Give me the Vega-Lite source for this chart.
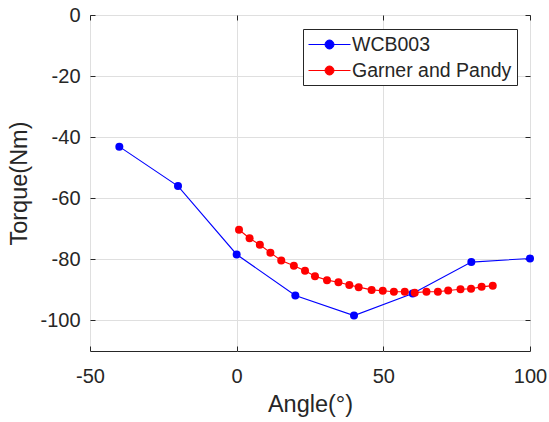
{
  "$schema": "https://vega.github.io/schema/vega-lite/v6.json",
  "width": 440,
  "height": 336,
  "autosize": {"type": "none"},
  "padding": {"left": 90, "top": 15, "right": 19, "bottom": 71},
  "background": "white",
  "config": {
    "view": {"stroke": "#262626", "strokeWidth": 1},
    "font": "Liberation Sans",
    "axis": {
      "labelFont": "Liberation Sans",
      "labelFontSize": 20,
      "labelColor": "#262626",
      "labelFlush": false,
      "labelOverlap": false,
      "labelExpr": "'' + datum.value",
      "titleFont": "Liberation Sans",
      "titleFontSize": 23.5,
      "titleFontWeight": "normal",
      "titleColor": "#262626",
      "domain": false,
      "gridColor": "#dfdfdf",
      "gridWidth": 1,
      "tickColor": "#262626",
      "tickSize": -5
    }
  },
  "data": {
    "values": [
      {"series": "WCB003", "angle": -40, "torque": -43.1},
      {"series": "WCB003", "angle": -20, "torque": -56.0},
      {"series": "WCB003", "angle": 0, "torque": -78.4},
      {"series": "WCB003", "angle": 20, "torque": -91.8},
      {"series": "WCB003", "angle": 40, "torque": -98.4},
      {"series": "WCB003", "angle": 60, "torque": -91.2},
      {"series": "WCB003", "angle": 80, "torque": -80.9},
      {"series": "WCB003", "angle": 100, "torque": -79.7},
      {"series": "Garner and Pandy", "angle": 0.8, "torque": -70.3},
      {"series": "Garner and Pandy", "angle": 4.4, "torque": -73.1},
      {"series": "Garner and Pandy", "angle": 7.9, "torque": -75.2},
      {"series": "Garner and Pandy", "angle": 11.5, "torque": -77.8},
      {"series": "Garner and Pandy", "angle": 15.2, "torque": -80.4},
      {"series": "Garner and Pandy", "angle": 19.5, "torque": -82.1},
      {"series": "Garner and Pandy", "angle": 23.3, "torque": -83.7},
      {"series": "Garner and Pandy", "angle": 26.7, "torque": -85.5},
      {"series": "Garner and Pandy", "angle": 30.8, "torque": -86.8},
      {"series": "Garner and Pandy", "angle": 34.7, "torque": -87.5},
      {"series": "Garner and Pandy", "angle": 38.4, "torque": -88.4},
      {"series": "Garner and Pandy", "angle": 41.6, "torque": -89.1},
      {"series": "Garner and Pandy", "angle": 46.0, "torque": -90.0},
      {"series": "Garner and Pandy", "angle": 49.8, "torque": -90.3},
      {"series": "Garner and Pandy", "angle": 53.6, "torque": -90.6},
      {"series": "Garner and Pandy", "angle": 57.3, "torque": -90.6},
      {"series": "Garner and Pandy", "angle": 60.7, "torque": -90.9},
      {"series": "Garner and Pandy", "angle": 64.7, "torque": -90.6},
      {"series": "Garner and Pandy", "angle": 68.6, "torque": -90.6},
      {"series": "Garner and Pandy", "angle": 72.1, "torque": -90.2},
      {"series": "Garner and Pandy", "angle": 76.3, "torque": -89.8},
      {"series": "Garner and Pandy", "angle": 79.9, "torque": -89.6},
      {"series": "Garner and Pandy", "angle": 83.5, "torque": -89.0},
      {"series": "Garner and Pandy", "angle": 87.3, "torque": -88.6}
    ]
  },
  "layer": [
    {
      "mark": {"type": "line", "strokeWidth": 1.1, "clip": true},
      "encoding": {
        "x": {
          "field": "angle", "type": "quantitative",
          "scale": {"domain": [-50, 100], "nice": false, "zero": false},
          "axis": {"values": [-50, 0, 50, 100], "title": "Angle(°)", "labelPadding": 20, "titlePadding": 6}
        },
        "y": {
          "field": "torque", "type": "quantitative",
          "scale": {"domain": [-110, 0], "nice": false, "zero": false},
          "axis": {"values": [-100, -80, -60, -40, -20, 0], "title": "Torque(Nm)", "labelPadding": 15, "titlePadding": 8}
        },
        "color": {
          "field": "series", "type": "nominal",
          "scale": {"domain": ["WCB003", "Garner and Pandy"], "range": ["#0000ff", "#ff0000"]},
          "legend": {
            "orient": "none",
            "legendX": 213,
            "legendY": 14,
            "title": null,
            "strokeColor": "#262626",
            "fillColor": "white",
            "padding": 5,
            "rowPadding": 6,
            "labelFont": "Liberation Sans",
            "labelFontSize": 19.5,
            "labelColor": "#262626",
            "labelOffset": 23,
            "symbolSize": 400,
            "symbolType": "M-1,0L3.2,0M0.65,0A0.45,0.45,0,1,1,1.55,0A0.45,0.45,0,1,1,0.65,0Z",
            "symbolStrokeWidth": 1,
            "encode": {
              "symbols": {
                "update": {
                  "fill": {"scale": "color", "field": "value"},
                  "stroke": {"scale": "color", "field": "value"},
                  "strokeWidth": {"value": 1},
                  "opacity": {"value": 1}
                }
              }
            }
          }
        }
      }
    },
    {
      "mark": {"type": "point", "filled": true, "size": 64, "opacity": 1},
      "encoding": {
        "x": {
          "field": "angle", "type": "quantitative",
          "axis": {"orient": "top", "values": [-50, 0, 50, 100], "labels": false, "grid": false, "title": null}
        },
        "y": {
          "field": "torque", "type": "quantitative",
          "axis": {"orient": "right", "values": [-100, -80, -60, -40, -20, 0], "labels": false, "grid": false, "title": null}
        },
        "color": {"field": "series", "type": "nominal"}
      }
    }
  ],
  "resolve": {"axis": {"x": "independent", "y": "independent"}}
}
